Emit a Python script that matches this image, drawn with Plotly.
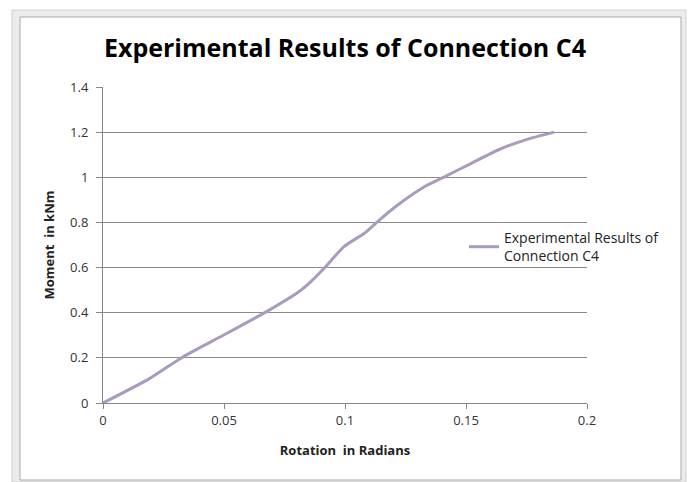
import plotly.graph_objects as go

rotation = [0, 0.0192, 0.033, 0.0497, 0.0663, 0.0809, 0.0858, 0.0913, 0.0996, 0.108,
            0.1135, 0.1219, 0.133, 0.1413, 0.1524, 0.1635, 0.1746, 0.1864]
moment = [0, 0.108, 0.204, 0.300, 0.397, 0.493, 0.537, 0.596, 0.693, 0.752,
          0.804, 0.878, 0.959, 1.003, 1.063, 1.122, 1.166, 1.200]
x_ticks = [0, 0.05, 0.1, 0.15, 0.2]
x_tick_labels = ["0", "0.05", "0.1", "0.15", "0.2"]
y_ticks = [0, 0.2, 0.4, 0.6, 0.8, 1.0, 1.2, 1.4]
y_tick_labels = ["0", "0.2", "0.4", "0.6", "0.8", "1", "1.2", "1.4"]

W, H = 691, 482
L, R, T, B = 103, 104, 87, 79
PW, PH = W - L - R, H - T - B


def px_x(p):
    return (p - L) / PW


def px_y(p):
    return (H - B - p) / PH


fig = go.Figure()
fig.add_trace(go.Scatter(
    x=rotation, y=moment, mode="lines",
    line=dict(color="#A99BBF", width=3, shape="spline", smoothing=0.6),
    name="Experimental Results of<br>Connection C4",
))

font_fam = "Open Sans, DejaVu Sans, sans-serif"

shapes = [
    dict(type="rect", xref="paper", yref="paper", layer="below",
         x0=px_x(12), x1=px_x(686), y0=px_y(482), y1=px_y(10),
         line=dict(color="#d0d0d0", width=1), fillcolor="#ececec"),
    dict(type="rect", xref="paper", yref="paper", layer="below",
         x0=px_x(20), x1=px_x(681), y0=px_y(480), y1=px_y(17),
         line=dict(color="#a8a8a8", width=1), fillcolor="white"),
]

fig.update_layout(
    width=W, height=H,
    margin=dict(l=L, r=R, t=T, b=B),
    paper_bgcolor="white", plot_bgcolor="white",
    shapes=shapes,
    title=dict(text="<b>Experimental Results of Connection C4</b>",
               x=0.5, xref="paper", xanchor="center", y=1 - 48/H, yanchor="middle",
               font=dict(family=font_fam, size=25, color="black")),
    showlegend=True,
    legend=dict(x=px_x(464), y=px_y(247), xanchor="left", yanchor="middle",
                font=dict(family=font_fam, size=14, color="#222222"),
                bgcolor="rgba(0,0,0,0)", itemwidth=30, tracegroupgap=0),
    xaxis=dict(range=[0, 0.2], tickvals=x_ticks, ticktext=x_tick_labels,
               showgrid=False, zeroline=False, showline=True, linecolor="#868686",
               linewidth=1, ticks="outside", ticklen=5, tickcolor="#868686",
               tickfont=dict(family=font_fam, size=13, color="#333333"),
               title=dict(text="<b>Rotation  in Radians</b>", standoff=18,
                          font=dict(family=font_fam, size=13, color="#222222"))),
    yaxis=dict(range=[0, 1.4], tickvals=y_ticks, ticktext=y_tick_labels,
               showgrid=True, gridcolor="#8a8a8a", gridwidth=1, zeroline=False,
               showline=True, linecolor="#868686", linewidth=1,
               ticks="outside", ticklen=6, tickcolor="#868686", ticklabelstandoff=5,
               tickfont=dict(family=font_fam, size=13, color="#333333"),
               title=dict(text="<b>Moment  in kNm</b>", standoff=12,
                          font=dict(family=font_fam, size=13, color="#222222"))),
)

fig.write_html("out.html")
